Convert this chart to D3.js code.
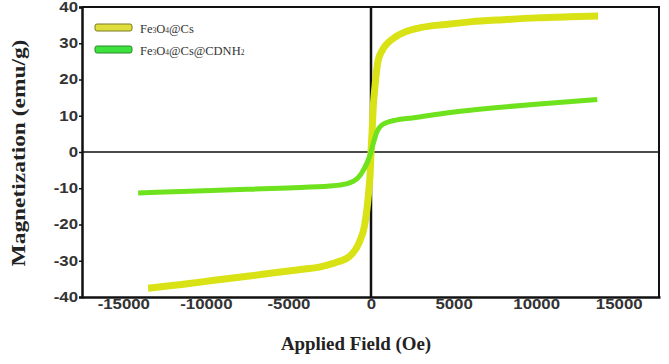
<!DOCTYPE html>
<html>
<head>
<meta charset="utf-8">
<script src="https://cdn.jsdelivr.net/npm/d3@7"></script>
<style>
  body { margin: 0; background: #fff; }
  svg { display: block; }
</style>
</head>
<body>
<script>
// Constants
var w = 669,
    h = 364;

// Data
var seriesNames = ['Fe3O4@Cs', 'Fe3O4@Cs@CDNH2'];
var seriesColors = ['#d8e214', '#6ee21c'];
var xTicks = [-15000, -10000, -5000, 0, 5000, 10000, 15000];
var yTicks = [-40, -30, -20, -10, 0, 10, 20, 30, 40];

// Fe3O4@Cs : field (Oe), magnetization (emu/g)
var csField = [-13500, -11000, -9500, -7500, -5500, -4000, -3000, -2000, -1300, -700,
               -400, -250, -120, -40, 0, 60, 130, 250, 420, 700,
               1000, 1500, 2000, 3000, 4500, 6000, 8000, 10000, 12000, 13750];
var csMag = [-37.6, -36.3, -35.4, -34.3, -33.1, -32.3, -31.6, -30.3, -28.8, -24.8,
             -20.5, -16, -10, -5, 0, 5, 12, 18.5, 25, 28.2,
             30, 31.8, 33, 34.3, 35.2, 35.9, 36.5, 37, 37.3, 37.5];

// Fe3O4@Cs@CDNH2
var cdField = [-14100, -11000, -7500, -5000, -2500, -1500, -800, -400, -150, 0,
               150, 350, 600, 1000, 1500, 2500, 4800, 7500, 10000, 13700];
var cdMag = [-11.3, -10.8, -10.3, -9.9, -9.4, -8.8, -7.2, -4.5, -2, 0,
             2.5, 5.5, 7.2, 8.2, 8.8, 9.4, 10.9, 12.2, 13.2, 14.5];

var dataset = [
  d3.zip(csField, csMag),
  d3.zip(cdField, cdMag)
];

// Scales
var xScale = d3.scaleLinear()
               .domain([-17500, 17500])
               .range([82, 660]);

var yScale = d3.scaleLinear()
               .domain([-40, 40])
               .range([297, 7]);

// Stretch text wider like the picture
function widen(sel, k) {
  sel.each(function() {
    var len = this.getComputedTextLength();
    d3.select(this)
      .attr('textLength', len * k)
      .attr('lengthAdjust', 'spacingAndGlyphs');
  });
}

var svg = d3.select('body')
            .append('svg')
            .attr('width', w)
            .attr('height', h);

// Frame: top and right
svg.append('line')
   .attr('x1', 82).attr('x2', 660)
   .attr('y1', yScale(40)).attr('y2', yScale(40))
   .attr('stroke', '#111').attr('stroke-width', 2);
svg.append('line')
   .attr('x1', 659).attr('x2', 659)
   .attr('y1', yScale(40)).attr('y2', yScale(-40))
   .attr('stroke', '#111').attr('stroke-width', 2);

// Zero lines
svg.append('line')
   .attr('x1', 82).attr('x2', 660)
   .attr('y1', yScale(0)).attr('y2', yScale(0))
   .attr('stroke', '#111').attr('stroke-width', 1.6);
svg.append('line')
   .attr('x1', xScale(0)).attr('x2', xScale(0))
   .attr('y1', yScale(40)).attr('y2', yScale(-40))
   .attr('stroke', '#111').attr('stroke-width', 2.5);

// Axes (plain hyphen, no thousands separator)
var plain = function(d) { return String(d); };

var xAxis = d3.axisBottom(xScale)
              .tickValues(xTicks)
              .tickFormat(plain)
              .tickSize(0)
              .tickPadding(2);

var yAxis = d3.axisLeft(yScale)
              .tickValues(yTicks)
              .tickFormat(plain)
              .tickSize(3)
              .tickPadding(1);

svg.append('g')
   .attr('class', 'x axis')
   .attr('transform', 'translate(0,297)')
   .call(xAxis);

svg.append('g')
   .attr('class', 'y axis')
   .attr('transform', 'translate(82,0)')
   .call(yAxis);

svg.selectAll('.axis .domain')
   .attr('stroke', '#111')
   .attr('stroke-width', 2.5);
svg.selectAll('.axis .tick line')
   .attr('stroke', '#111')
   .attr('stroke-width', 1.5);
svg.selectAll('.axis text')
   .attr('fill', '#333')
   .style('font-family', '"Liberation Sans", Arial, sans-serif')
   .style('font-weight', 'bold')
   .style('font-size', '14px')
   .call(widen, 1.2);

// Curves
var line = d3.line()
             .x(function(d) { return xScale(d[0]); })
             .y(function(d) { return yScale(d[1]); })
             .curve(d3.curveMonotoneX);

svg.selectAll('path.curve')
   .data(dataset)
   .enter()
   .append('path')
   .attr('class', 'curve')
   .attr('d', line)
   .attr('fill', 'none')
   .attr('stroke', function(d, i) { return seriesColors[i]; })
   .attr('stroke-width', function(d, i) { return i === 0 ? 7 : 5; })
   .attr('stroke-linejoin', 'round');

// Legend
var legend = svg.selectAll('g.legend')
                .data(seriesNames)
                .enter()
                .append('g')
                .attr('class', 'legend')
                .attr('transform', function(d, i) {
                  return 'translate(95,' + (24 + i * 22) + ')';
                });

legend.append('rect')
      .attr('width', 37)
      .attr('height', 7)
      .attr('rx', 2)
      .attr('fill', function(d, i) { return i === 0 ? '#dede3c' : '#3ee23e'; })
      .attr('stroke', function(d, i) { return i === 0 ? '#7a7a20' : '#2a8a2a'; })
      .attr('stroke-width', 1);

var lt = legend.append('text')
               .attr('x', 45)
               .attr('y', 9)
               .attr('fill', '#333')
               .style('font-family', '"Liberation Serif", "Times New Roman", serif')
               .style('font-size', '12.5px');

lt.each(function(d) {
  var t = d3.select(this);
  // split into normal text and subscript digits
  var parts = d.match(/[0-9]+|[^0-9]+/g);
  parts.forEach(function(p) {
    var sub = /^[0-9]+$/.test(p);
    t.append('tspan')
     .style('font-size', sub ? '7.5px' : null)
     .text(p);
  });
});

// Axis titles
svg.append('text')
   .attr('x', 356)
   .attr('y', 350)
   .attr('text-anchor', 'middle')
   .attr('fill', '#222')
   .style('font-family', '"Liberation Serif", "Times New Roman", serif')
   .style('font-weight', 'bold')
   .style('font-size', '18px')
   .text('Applied Field (Oe)')
   .call(widen, 1.05);

svg.append('text')
   .attr('transform', 'translate(25,153) rotate(-90)')
   .attr('text-anchor', 'middle')
   .attr('fill', '#222')
   .style('font-family', '"Liberation Serif", "Times New Roman", serif')
   .style('font-weight', 'bold')
   .style('font-size', '18px')
   .text('Magnetization (emu/g)')
   .call(widen, 1.3);
</script>
</body>
</html>
